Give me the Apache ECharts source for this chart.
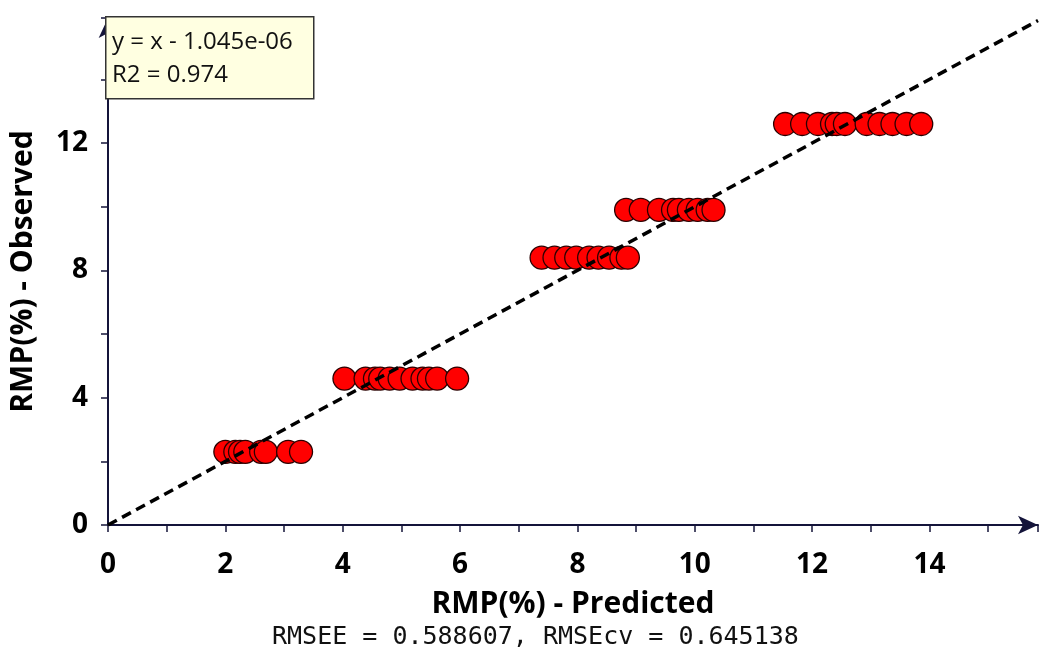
<!DOCTYPE html>
<html><head><meta charset="utf-8">
<script src="https://cdn.jsdelivr.net/npm/echarts@6/dist/echarts.min.js"></script>
<style>html,body{margin:0;padding:0;background:#fff}#c{width:1041px;height:650px}</style>
</head><body><div id="c"></div>
<script>
// Observed levels and predicted values per level
const observedLevels = [2.3, 4.6, 8.4, 9.9, 12.6];
const predicted1 = [2.0, 2.17, 2.25, 2.34, 2.61, 2.69, 3.07, 3.29];
const predicted2 = [4.03, 4.39, 4.55, 4.64, 4.80, 4.97, 5.19, 5.36, 5.47, 5.61, 5.95];
const predicted3 = [7.39, 7.61, 7.81, 7.98, 8.20, 8.36, 8.54, 8.75, 8.86];
const predicted4 = [8.83, 9.08, 9.39, 9.63, 9.73, 9.90, 10.05, 10.22, 10.32];
const predicted5 = [11.54, 11.83, 12.10, 12.34, 12.42, 12.56, 12.93, 13.15, 13.37, 13.61, 13.86];
const fitLine = [[0, 0], [15.85, 15.85]];
const xTicks = [0, 2, 4, 6, 8, 10, 12, 14];
const yTicks = [0, 4, 8, 12];
const fitText = ['y = x - 1.045e-06', 'R2 = 0.974'];
const statsText = 'RMSEE = 0.588607, RMSEcv = 0.645138';
const xName = 'RMP(%) - Predicted';
const yName = 'RMP(%) - Observed';

const groups = [predicted1, predicted2, predicted3, predicted4, predicted5];
const points = [];
groups.forEach((g, i) => g.forEach(x => points.push([x, observedLevels[i]])));

const axisColor = '#14143a';
const chart = echarts.init(document.getElementById('c'));
chart.setOption({
  animation: false,
  grid: {left: 105, right: 1, top: 18, bottom: 125},
  xAxis: {
    type: 'value', min: 0, max: 15.85, interval: 2,
    name: xName, nameLocation: 'middle', nameGap: 64,
    nameTextStyle: {fontFamily: 'Open Sans', fontWeight: 'bold', fontSize: 30, color: '#000'},
    axisLine: {show: true, lineStyle: {color: axisColor, width: 2}, symbol: ['none', 'arrow'], symbolSize: [14, 20]},
    axisTick: {show: true, length: 7, lineStyle: {color: axisColor, width: 1.5}},
    minorTick: {show: true, splitNumber: 2, length: 7, lineStyle: {color: axisColor, width: 1.5}},
    splitLine: {show: false},
    axisLabel: {fontFamily: 'Open Sans', fontWeight: 'bold', fontSize: 28, color: '#000', margin: 26,
      formatter: v => xTicks.includes(v) ? String(v) : ''},
  },
  yAxis: {
    type: 'value', min: 0, max: 15.93, interval: 4,
    name: yName, nameLocation: 'middle', nameGap: 70,
    nameTextStyle: {fontFamily: 'Open Sans', fontWeight: 'bold', fontSize: 30, color: '#000'},
    axisLine: {show: true, lineStyle: {color: axisColor, width: 2}, symbol: ['none', 'arrow'], symbolSize: [14, 20]},
    axisTick: {show: true, length: 7, lineStyle: {color: axisColor, width: 1.5}},
    minorTick: {show: true, splitNumber: 2, length: 7, lineStyle: {color: axisColor, width: 1.5}},
    splitLine: {show: false},
    axisLabel: {fontFamily: 'Open Sans', fontWeight: 'bold', fontSize: 28, color: '#000', margin: 20,
      formatter: v => yTicks.includes(v) ? String(v) : ''},
  },
  series: [
    {type: 'scatter', data: points, symbolSize: 23, z: 2,
      itemStyle: {color: '#ff0000', borderColor: '#2a0000', borderWidth: 1.3, opacity: 1}},
    {type: 'line', data: fitLine, symbol: 'none', z: 3,
      lineStyle: {color: '#000', width: 3.5, type: [10, 6]}}
  ],
  graphic: [
    {type: 'rect', left: 105, top: 16, z: 10, shape: {width: 208, height: 82},
      style: {fill: '#ffffe1', stroke: '#333', lineWidth: 1.5}},
    {type: 'text', left: 112, top: 30, z: 11,
      style: {text: fitText[0], fontFamily: 'Open Sans', fontSize: 24, fill: '#111'}},
    {type: 'text', left: 112, top: 63, z: 11,
      style: {text: fitText[1], fontFamily: 'Open Sans', fontSize: 24, fill: '#111'}},
    {type: 'text', left: 272, top: 625, z: 11,
      style: {text: statsText, fontFamily: 'DejaVu Sans Mono', fontSize: 25, fill: '#111'}}
  ]
});
</script></body></html>
